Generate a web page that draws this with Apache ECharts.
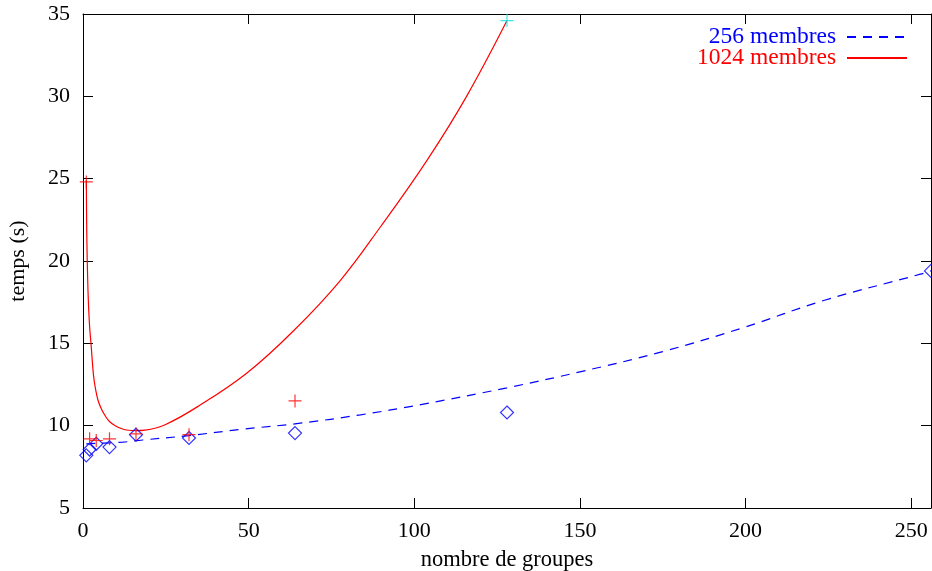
<!DOCTYPE html>
<html>
<head>
<meta charset="utf-8">
<script src="https://cdn.jsdelivr.net/npm/echarts@6/dist/echarts.min.js"></script>
<style>
  html, body { margin: 0; padding: 0; background: #fff; }
  #chart { width: 932px; height: 571px; }
</style>
</head>
<body>
<div id="chart"></div>
<script>
const groupes256 = [1, 2, 4, 8, 16, 32, 64, 128, 256];
const temps256 = [8.2, 8.55, 8.9, 8.7, 9.45, 9.25, 9.55, 10.8, 19.4];
const groupes1024 = [1, 2, 4, 8, 16, 32, 64];
const temps1024 = [24.8, 9.2, 9.1, 9.2, 9.5, 9.45, 11.5];
const groupes1024b = [128];
const temps1024b = [34.6];

// courbes ajustées
const fit256X = [1, 12, 18, 32, 48, 65.6, 83.8, 102, 128, 150.7, 175, 199.3, 223.6, 252.8, 256];
const fit256Y = [8.9, 9.0, 9.13, 9.4, 9.78, 10.15, 10.66, 11.28, 12.3, 13.3, 14.5, 15.95, 17.6, 19.2, 19.4];
const fit1024X = [1, 1.15, 1.4, 1.65, 2.0, 2.45, 3.15, 3.8, 4.6, 5.6, 6.7, 8.0, 9.7, 11.5, 13.7, 16, 18.7, 24.8, 34.8, 49.5, 63.5, 77.6, 89.7, 103.8, 115.8, 128];
const fit1024Y = [24.9, 21.5, 19.0, 17.4, 16.0, 14.9, 13.1, 12.2, 11.5, 11.0, 10.6, 10.25, 10.0, 9.83, 9.72, 9.7, 9.73, 10.06, 11.18, 13.2, 15.75, 18.8, 22.05, 26.1, 30.0, 34.6];

const xTicks = [0, 50, 100, 150, 200, 250];
const yTicks = [5, 10, 15, 20, 25, 30, 35];

const FONT = "'Liberation Serif', 'DejaVu Serif', serif";
const plusPath = 'path://M0,5L10,5M5,0L5,10';

function pairs(xs, ys) {
  return xs.map((x, i) => [x, ys[i]]);
}

const chart = echarts.init(document.getElementById('chart'));

const frameAxis = {
  axisLine: { show: true, onZero: false, lineStyle: { color: '#000', width: 1 } },
  axisTick: { inside: true, length: 10, lineStyle: { color: '#000' } },
  splitLine: { show: false }
};

chart.setOption({
  animation: false,
  backgroundColor: '#fff',
  textStyle: { fontFamily: FONT },
  grid: { left: 83, right: 1, top: 14, bottom: 63, outerBoundsMode: 'none' },
  legend: {
    orient: 'vertical',
    right: 19,
    top: 20,
    align: 'right',
    itemWidth: 60,
    itemHeight: 1,
    itemGap: -3,
    itemStyle: { opacity: 0 },
    formatter: name => name + '\u00a0',
    textStyle: { fontFamily: FONT, fontSize: 23.5, lineHeight: 19 },
    data: [
      { name: '256 membres', textStyle: { color: '#0000ff' } },
      { name: '1024 membres', textStyle: { color: '#ff0000' } }
    ]
  },
  xAxis: [
    {
      ...frameAxis,
      type: 'value',
      min: 0,
      max: 256,
      interval: 50,
      name: 'nombre de groupes',
      nameLocation: 'middle',
      nameGap: 41,
      nameTextStyle: { fontFamily: FONT, fontSize: 22.5, color: '#000' },
      axisTick: { ...frameAxis.axisTick, customValues: xTicks },
      axisLabel: { customValues: xTicks, color: '#000', fontFamily: FONT, fontSize: 22, margin: 12 }
    },
    {
      ...frameAxis,
      type: 'value',
      position: 'top',
      min: 0,
      max: 256,
      interval: 50,
      axisTick: { ...frameAxis.axisTick, customValues: xTicks },
      axisLabel: { show: false }
    }
  ],
  yAxis: [
    {
      ...frameAxis,
      type: 'value',
      min: 5,
      max: 35,
      interval: 5,
      name: 'temps (s)',
      nameLocation: 'middle',
      nameGap: 54,
      nameTextStyle: { fontFamily: FONT, fontSize: 22, color: '#000' },
      axisTick: { ...frameAxis.axisTick, customValues: yTicks },
      axisLabel: { customValues: yTicks, color: '#000', fontFamily: FONT, fontSize: 22, margin: 13 }
    },
    {
      ...frameAxis,
      type: 'value',
      position: 'right',
      min: 5,
      max: 35,
      interval: 5,
      axisTick: { ...frameAxis.axisTick, customValues: yTicks },
      axisLabel: { show: false }
    }
  ],
  series: [
    {
      name: '256 points',
      type: 'scatter',
      symbol: 'diamond',
      symbolSize: 13,
      clip: false,
      itemStyle: { color: 'rgba(0,0,0,0)', borderColor: '#0000ff', borderWidth: 1.2 },
      data: pairs(groupes256, temps256),
      z: 3
    },
    {
      name: '1024 points',
      type: 'scatter',
      symbol: plusPath,
      symbolSize: 13,
      itemStyle: { color: 'rgba(0,0,0,0)', borderColor: '#ff0000', borderWidth: 1.2 },
      data: pairs(groupes1024, temps1024),
      z: 3
    },
    {
      name: '1024 points (128)',
      type: 'scatter',
      symbol: plusPath,
      symbolSize: 13,
      itemStyle: { color: 'rgba(0,0,0,0)', borderColor: '#00e5e5', borderWidth: 1.2 },
      data: pairs(groupes1024b, temps1024b),
      z: 3
    },
    {
      name: '256 membres',
      type: 'line',
      smooth: 0.4,
      symbol: 'none',
      color: '#0000ff',
      lineStyle: { color: '#0000ff', width: 1.2, type: [9, 7] },
      data: pairs(fit256X, fit256Y)
    },
    {
      name: '1024 membres',
      type: 'line',
      smooth: 0.4,
      symbol: 'none',
      color: '#ff0000',
      lineStyle: { color: '#ff0000', width: 1.2 },
      data: pairs(fit1024X, fit1024Y)
    }
  ]
});
</script>
</body>
</html>
